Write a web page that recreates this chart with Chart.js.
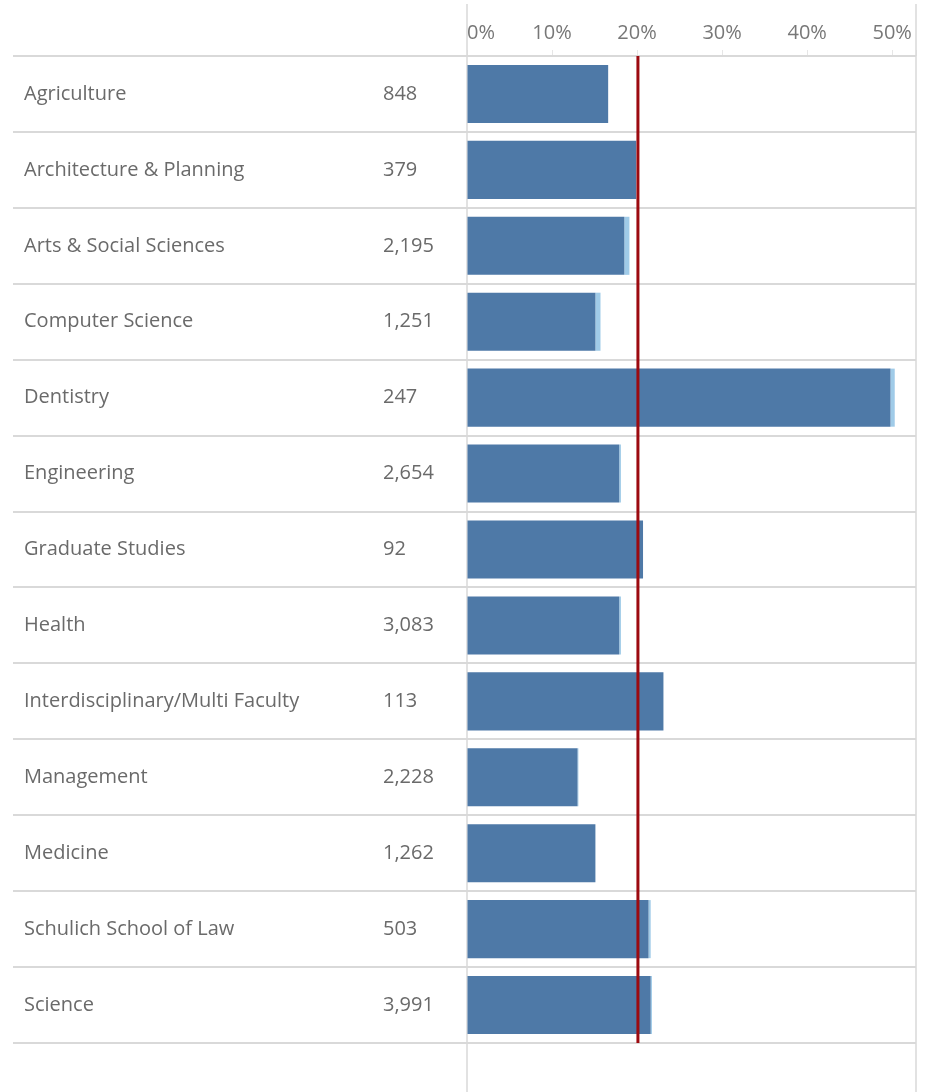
<!DOCTYPE html>
<html>
<head>
<meta charset="utf-8">
<script src="https://cdn.jsdelivr.net/npm/chart.js"></script>
<style>
    html, body { margin: 0; padding: 0; background: #fff; }
    #wrap { width: 929px; height: 1092px; position: relative; }
</style>
</head>
<body>
<div id="wrap"><canvas id="facultyChart"></canvas></div>
<script>
// Faculties and their headcounts
const faculties = [
    'Agriculture', 'Architecture & Planning', 'Arts & Social Sciences', 'Computer Science',
    'Dentistry', 'Engineering', 'Graduate Studies', 'Health',
    'Interdisciplinary/Multi Faculty', 'Management', 'Medicine', 'Schulich School of Law', 'Science'
];
const headcounts = [848, 379, 2195, 1251, 247, 2654, 92, 3083, 113, 2228, 1262, 503, 3991];

// Percent shares (dark part + light part of each bar)
const mainShare = [16.6, 19.9, 18.5, 15.1, 49.8, 17.9, 20.7, 17.9, 23.1, 13.0, 15.1, 21.35, 21.6];
const extraShare = [0, 0, 0.6, 0.6, 0.5, 0.2, 0, 0.2, 0, 0.1, 0, 0.25, 0.15];

// Overall reference value (%)
const overallShare = 20.1;
const axisTicks = [0, 10, 20, 30, 40, 50];
const axisMax = 52.8;

const FONT = '"Open Sans", "Noto Sans", sans-serif';
const LINE = '#d9d9d9';

// Draws the row separators, the frame lines and the red reference line
const tablePlugin = {
    id: 'tableLines',
    beforeDatasetsDraw(chart) {
        const { ctx, chartArea, height } = chart;
        const n = faculties.length;
        const step = (chartArea.bottom - chartArea.top) / n;
        ctx.save();
        ctx.strokeStyle = LINE;
        ctx.lineWidth = 2;
        for (let i = 0; i <= n; i++) {
            const y = Math.round(chartArea.top + i * step);
            ctx.beginPath();
            ctx.moveTo(13, y);
            ctx.lineTo(chartArea.right, y);
            ctx.stroke();
        }
        ctx.lineWidth = 1.5;
        [chartArea.left, chartArea.right].forEach(x => {
            ctx.beginPath();
            ctx.moveTo(x, 4);
            ctx.lineTo(x, height);
            ctx.stroke();
        });
        ctx.restore();
    },
    afterDatasetsDraw(chart) {
        const { ctx, chartArea } = chart;
        const x = chart.scales.x.getPixelForValue(overallShare);
        ctx.save();
        ctx.strokeStyle = '#9c0a10';
        ctx.lineWidth = 3;
        ctx.beginPath();
        ctx.moveTo(x, chartArea.top);
        ctx.lineTo(x, chartArea.bottom);
        ctx.stroke();
        ctx.restore();
    }
};

new Chart(document.getElementById('facultyChart'), {
    type: 'bar',
    data: {
        labels: faculties,
        datasets: [
            {
                label: 'Share',
                data: mainShare,
                backgroundColor: '#4e79a7',
                categoryPercentage: 1,
                barPercentage: 0.765
            },
            {
                label: 'Extra',
                data: extraShare,
                backgroundColor: '#a0cbe8',
                categoryPercentage: 1,
                barPercentage: 0.765
            }
        ]
    },
    options: {
        indexAxis: 'y',
        responsive: true,
        maintainAspectRatio: false,
        animation: false,
        layout: { padding: { left: 24, right: 13, top: 0, bottom: 49 } },
        plugins: {
            legend: { display: false },
            tooltip: { enabled: false }
        },
        scales: {
            x: {
                position: 'top',
                stacked: true,
                min: 0,
                max: axisMax,
                // labelled ticks plus a blank one at the axis end so 'inner' only shifts 0%
                afterBuildTicks: s => { s.ticks = axisTicks.concat([axisMax]).map(v => ({ value: v })); },
                afterFit: s => { s.height = 56; },
                ticks: {
                    align: 'inner',
                    color: '#777',
                    font: { family: FONT, size: 20 },
                    padding: 5,
                    maxRotation: 0,
                    autoSkip: false,
                    callback: v => axisTicks.includes(v) ? v + '%' : ''
                },
                grid: { drawOnChartArea: false, color: '#e6e6e6', tickLength: 6 },
                border: { display: false }
            },
            y: {
                position: 'left',
                stacked: true,
                weight: 2,
                afterFit: s => { s.width = 359; },
                ticks: {
                    crossAlign: 'far',
                    color: '#6a6a6a',
                    font: { family: FONT, size: 20 }
                },
                grid: { display: false },
                border: { display: false }
            },
            yCount: {
                type: 'category',
                position: 'left',
                weight: 1,
                labels: headcounts.map(v => v.toLocaleString('en-US')),
                afterFit: s => { s.width = 84; },
                ticks: {
                    crossAlign: 'far',
                    color: '#6a6a6a',
                    font: { family: FONT, size: 20 }
                },
                grid: { display: false },
                border: { display: false }
            }
        }
    },
    plugins: [tablePlugin]
});
</script>
</body>
</html>
